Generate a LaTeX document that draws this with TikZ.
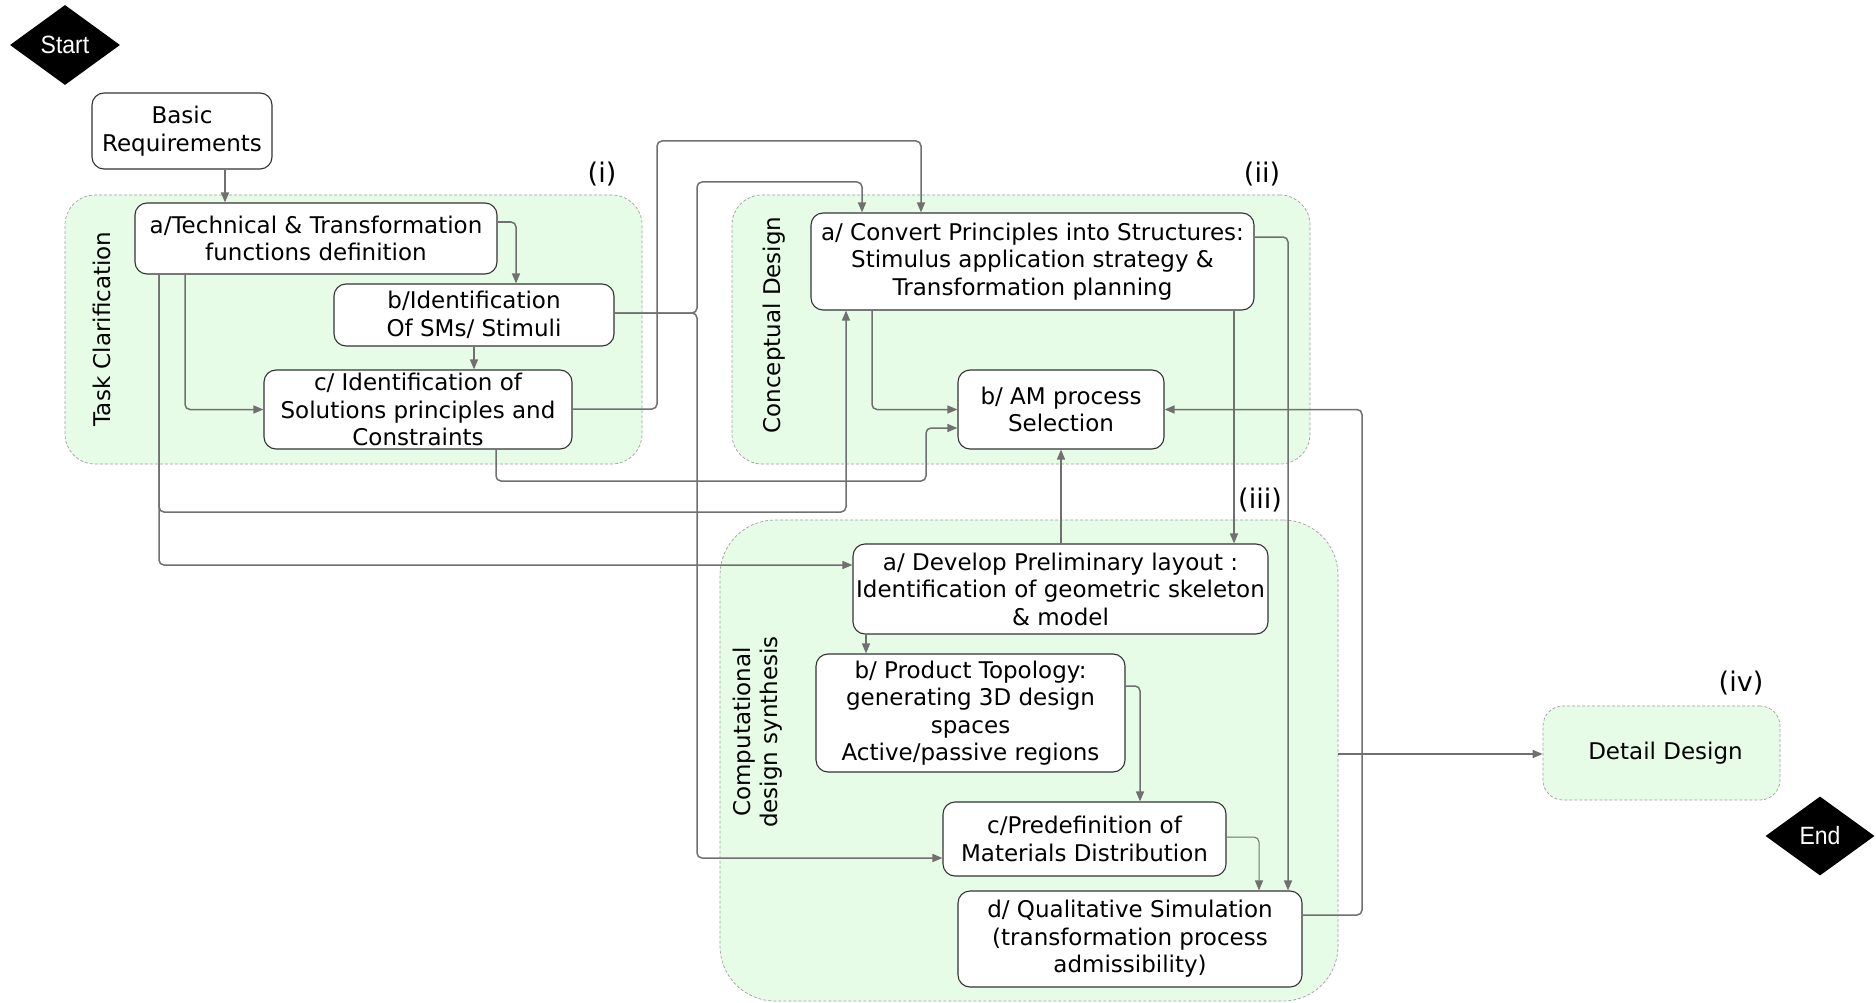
\documentclass[tikz,border=0pt]{standalone}
\usepackage{fontspec}
\setmainfont{DejaVu Sans}
\newfontfamily\arialfont[FakeStretch=0.92]{Liberation Sans}
\usetikzlibrary{arrows.meta,shapes.geometric}
\definecolor{grpfill}{HTML}{E6FCE6}
\definecolor{grpdraw}{HTML}{A0A0A0}
\definecolor{linec}{HTML}{707070}
\definecolor{boxdraw}{HTML}{333333}
\begin{document}
\begin{tikzpicture}[x=1pt,y=-1pt,
 box/.style={draw=boxdraw, line width=1.1pt, rounded corners=12pt, fill=white, align=center, inner sep=1pt, font=\fontsize{23}{27.5}\selectfont},
 grp/.style={draw=grpdraw, densely dashed, line width=0.7pt, fill=grpfill, rounded corners=30pt, inner sep=0pt},
 conn/.style={draw=linec, line width=1.5pt, rounded corners=5pt, -{Triangle[length=10pt,width=8pt]}},
 lbl/.style={font=\fontsize{27}{30}\selectfont, inner sep=0pt},
 vlbl/.style={rotate=90, align=center, font=\fontsize{23}{27}\selectfont, inner sep=0pt},
 term/.style={diamond, fill=black, text=white, inner sep=0pt, font=\arialfont\fontsize{25}{28}\selectfont},
]
\useasboundingbox[fill=white] (0,0) rectangle (1876,1003);

% groups
\node[grp, minimum width=577pt, minimum height=269pt] (gi) at (353.5,329.5) {};
\node[grp, minimum width=578pt, minimum height=269pt] (gii) at (1021,329.5) {};
\node[grp, rounded corners=55pt, minimum width=618pt, minimum height=481pt] (giii) at (1029,760.5) {};
\node[grp, rounded corners=20pt, minimum width=237pt, minimum height=94pt, font=\fontsize{23}{27.5}\selectfont] (detail) at (1661.5,753) {\hspace*{8pt}Detail Design};

\node[lbl] (li) at (602,174) {(i)};
\node[lbl] (lii) at (1262,174) {(ii)};
\node[lbl] (liii) at (1260,500) {(iii)};
\node[lbl] (liv) at (1741,683) {(iv)};

\node[vlbl] (vt1) at (102,329) {Task Clarification};
\node[vlbl] (vt2) at (774,325) {Conceptual Design};
\node[vlbl] (vt3) at (758,732) {Computational\\design synthesis};

% terminals
\node[term, minimum width=110pt, minimum height=80pt] (start) at (65,45) {Start};
\node[term, minimum width=109pt, minimum height=79pt] (end) at (1820,836) {End};

% boxes
\node[box, minimum width=180pt, minimum height=76pt] (basic) at (182,131) {Basic\\Requirements};
\node[box, minimum width=362pt, minimum height=71pt] (ta) at (316,238.5) {a/Technical \& Transformation\\functions definition};
\node[box, minimum width=280pt, minimum height=62pt] (tb) at (474,315) {b/Identification\\Of SMs/ Stimuli};
\node[box, minimum width=308pt, minimum height=79pt] (tc) at (418,409.5) {c/ Identification of\\Solutions principles and\\Constraints};

\node[box, minimum width=443pt, minimum height=97pt] (ca) at (1032.5,261.5) {a/ Convert Principles into Structures:\\Stimulus application strategy \&\\Transformation planning};
\node[box, minimum width=206pt, minimum height=79pt] (cb) at (1061,409.5) {b/ AM process\\Selection};

\node[box, minimum width=415pt, minimum height=90pt] (da) at (1060.5,589) {a/ Develop Preliminary layout :\\Identification of geometric skeleton\\\& model};
\node[box, minimum width=309pt, minimum height=118pt] (db) at (970.5,713) {b/ Product Topology:\\generating 3D design\\spaces\\Active/passive regions};
\node[box, minimum width=283pt, minimum height=74pt] (dc) at (1084.5,839) {c/Predefinition of\\Materials Distribution};
\node[box, minimum width=344pt, minimum height=96pt] (dd) at (1130,939) {d/ Qualitative Simulation\\(transformation process\\admissibility)};

% connectors
\draw[conn] (basic.south -| 225,0) -- (ta.north -| 225,0);
\draw[conn] (ta.east |- 0,222) -| (tb.north -| 516,0);
\draw[conn] (ta.south -| 185,0) |- (tc.west);
\draw[conn] (tb.south) -- (tc.north -| tb.south);
\draw[conn] (tb.east |- 0,313) -| (697,182) -| (ca.north -| 862,0);
\draw[conn] (tb.east |- 0,313) -- (697,313) |- (dc.west |- 0,858);
\draw[conn] (tc.east |- 0,409) -| (657,141) -| (ca.north -| 921,0);
\draw[conn] (tc.south -| 496,0) |- (926,481) |- (cb.west |- 0,428);
\draw[conn] (ta.south -| 159,0) |- (846,512) -- (ca.south -| 846,0);
\draw[conn] (ta.south -| 159,0) |- (da.west |- 0,565);
\draw[conn] (ca.south -| 872,0) |- (cb.west);
\draw[conn] (ca.south -| 1234,0) -- (da.north -| 1234,0);
\draw[conn] (ca.east |- 0,237) -| (dd.north -| 1288,0);
\draw[conn] (da.north -| cb.south) -- (cb.south);
\draw[conn] (da.south -| 866,0) -- (db.north -| 866,0);
\draw[conn] (db.east |- 0,686) -| (dc.north -| 1140,0);
\draw[conn, line width=1pt] (dc.east |- 0,837) -| (dd.north -| 1259,0);
\draw[conn] (dd.east |- 0,915) -| (1362,409.5) -- (cb.east);
\draw[conn] (giii.east |- 0,754) -- (detail.west |- 0,754);
\end{tikzpicture}
\end{document}
